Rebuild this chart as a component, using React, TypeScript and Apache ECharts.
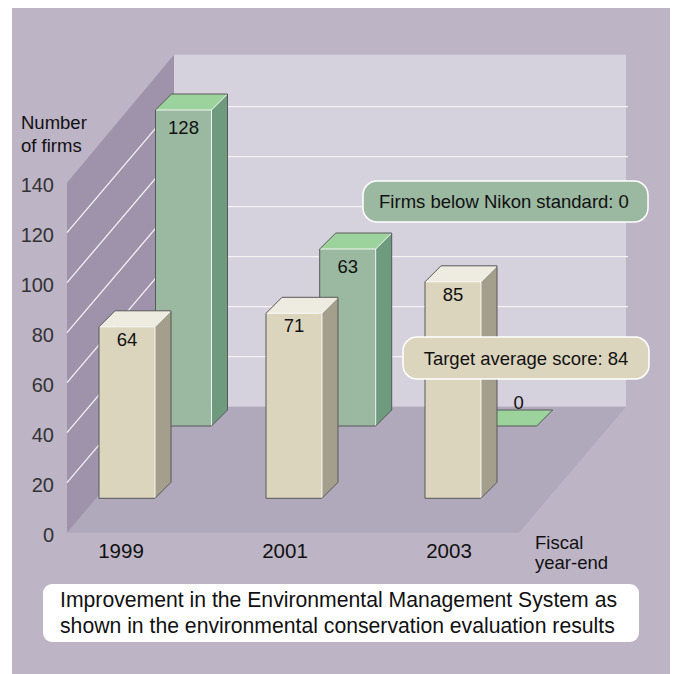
import React, { useEffect, useRef } from "react";
import * as echarts from "echarts";

const years = ["1999", "2001", "2003"];
const yTicks = [0, 20, 40, 60, 80, 100, 120, 140];
// Values as printed on the bars
const scorePrinted = [64, 71, 85];
const firmsPrinted = [128, 63, 0];
// Heights of the same bars as read against the drawn axis scale
const scoreHeights = [68.6, 74, 86.6];
const firmsHeights = [126.4, 70.8, 0];

const GRID = { left: 39, right: 144, top: 182.7, bottom: 141.3 };
const FONT = "Liberation Sans, Arial, Helvetica, sans-serif";
const DEPTH = { dx: 107, dy: 126 };
const WALL_X0 = 67;
const WALL_W = 452;

const beigeStyle = { front: "#DCD5BD", top: "#EEEBE0", side: "#A49E8C" };
const greenStyle = { front: "#9BB8A1", top: "#9CD29C", side: "#6E9B7E" };

const renderStage = (_: any, api: any) => {
  const y0 = api.coord([0, 0])[1];
  const yTop = api.coord([0, 140])[1];
  const { dx, dy } = DEPTH;
  const x0 = WALL_X0;
  const x1 = WALL_X0 + WALL_W;
  const children: any[] = [
    { type: "polygon", shape: { points: [[x0 + dx, yTop - dy - 2], [x1 + dx, yTop - dy - 2], [x1 + dx, y0 - dy], [x0 + dx, y0 - dy]] }, style: { fill: "#D5D1DD" } },
    { type: "polygon", shape: { points: [[x0, y0], [x0 + dx, y0 - dy], [x1 + dx, y0 - dy], [x1, y0]] }, style: { fill: "#B0A9BB" } },
    { type: "polygon", shape: { points: [[x0, y0], [x0 + dx, y0 - dy], [x0 + dx, yTop - dy - 2], [x0, yTop]] }, style: { fill: "#9F92AB" } },
  ];
  yTicks.slice(1, -1).forEach((t) => {
    const y = api.coord([0, t])[1];
    children.push({
      type: "polyline",
      shape: { points: [[x0, y], [x0 + dx, y - dy], [x1 + dx + 2, y - dy]] },
      style: { stroke: "#F3F2F5", lineWidth: 1.3, fill: "none" },
    });
  });
  return { type: "group", children };
};

const makeBars = (offsets: number[], depthUp: number, style: any, labelDy: number) => (params: any, api: any) => {
  const cat = api.value(0);
  const base = api.coord([cat, 0]);
  const h = api.coord([cat, 0])[1] - api.coord([cat, api.value(1)])[1];
  const printed = api.value(2);
  const W = 56;
  const D = 16;
  const xL = base[0] + offsets[params.dataIndex] - W / 2;
  const xR = xL + W;
  const yB = base[1] - depthUp;
  const yT = yB - h;
  const topPts = [[xL, yT], [xL + D, yT - D], [xR + D, yT - D], [xR, yT]];
  const children: any[] = [];
  if (h > 0) {
    children.push(
      { type: "polygon", shape: { points: [[xL, yT], [xR, yT], [xR, yB], [xL, yB]] }, style: { fill: style.front } },
      { type: "polygon", shape: { points: [[xR, yT], [xR + D, yT - D], [xR + D, yB - D], [xR, yB]] }, style: { fill: style.side } },
      { type: "polygon", shape: { points: topPts }, style: { fill: style.top } },
      { type: "polyline", shape: { points: [[xL, yT], [xR, yT], [xR, yB]] }, style: { stroke: "#FFFFFF", lineWidth: 1, fill: "none", opacity: 0.85 } },
      { type: "line", shape: { x1: xR, y1: yT, x2: xR + D, y2: yT - D }, style: { stroke: "#FFFFFF", lineWidth: 1, opacity: 0.85 } },
      {
        type: "polyline",
        shape: { points: [[xL, yT], [xL + D, yT - D], [xR + D, yT - D], [xR + D, yB - D], [xR, yB], [xL, yB], [xL, yT]] },
        style: { stroke: "#585858", lineWidth: 1, fill: "none" },
      },
      { type: "text", style: { text: String(printed), x: xL + W / 2, y: yT + labelDy, fill: "#111", font: `18.5px ${FONT}`, align: "center", verticalAlign: "middle" } },
    );
  } else {
    children.push(
      { type: "polygon", shape: { points: topPts }, style: { fill: style.top, stroke: "#585858", lineWidth: 1 } },
      { type: "text", style: { text: String(printed), x: xL + W / 2 + 10, y: yT - 24, fill: "#111", font: `18.5px ${FONT}`, align: "center", verticalAlign: "middle" } },
    );
  }
  return { type: "group", children };
};

const bubble = (x: number, y: number, w: number, h: number, fill: string, label: string, cx: number) => [
  { type: "rect", z: 100, shape: { x, y, width: w, height: h, r: 14 }, style: { fill, stroke: "#FFFFFF", lineWidth: 1.5 } },
  { type: "text", z: 101, style: { text: label, x: cx, y: y + h / 2, fill: "#111", font: `18.5px ${FONT}`, align: "center", verticalAlign: "middle" } },
];

export default function App() {
  const ref = useRef<HTMLDivElement>(null);
  useEffect(() => {
    document.body.style.margin = "0";
    const chart = echarts.init(ref.current!, undefined, { renderer: "svg" });
    chart.setOption({
      animation: false,
      backgroundColor: "#FFFFFF",
      grid: { ...GRID, containLabel: false },
      xAxis: {
        type: "category",
        data: years,
        axisLine: { show: false },
        axisTick: { show: false },
        axisLabel: { color: "#111", fontSize: 20.5, fontFamily: FONT, margin: 7 },
        name: "Fiscal\nyear-end",
        nameLocation: "end",
        nameGap: 4,
        nameTextStyle: { color: "#111", fontSize: 18.5, fontFamily: FONT, align: "left", verticalAlign: "top", lineHeight: 20 },
      },
      yAxis: {
        type: "value",
        min: 0,
        max: 140,
        interval: 20,
        offset: 18,
        axisLine: { show: false },
        axisTick: { show: false },
        splitLine: { show: false },
        axisLabel: { color: "#333", fontSize: 20, fontFamily: FONT, margin: -33, verticalAlign: "top", lineHeight: 4 },
        name: "Number\nof firms",
        nameLocation: "end",
        nameGap: 26,
        nameTextStyle: { color: "#111", fontSize: 18.5, fontFamily: FONT, align: "left", lineHeight: 23 },
      },
      graphic: [
        { type: "rect", z: -10, silent: true, shape: { x: 12, y: 8, width: 658, height: 666 }, style: { fill: "#BDB4C6" } },
        ...bubble(363, 181, 285, 41, "#9BB8A1", "Firms below Nikon standard: 0", 504),
        ...bubble(403, 337, 246, 42, "#DCD5BD", "Target average score: 84", 526),
        { type: "rect", z: 100, shape: { x: 43, y: 584, width: 596, height: 58, r: 9 }, style: { fill: "#FFFFFF" } },
        { type: "text", z: 101, style: { text: "Improvement in the Environmental Management System as", x: 60, y: 599, fill: "#111", font: `21.2px ${FONT}`, verticalAlign: "middle" } },
        { type: "text", z: 101, style: { text: "shown in the environmental conservation evaluation results", x: 60, y: 625, fill: "#111", font: `21.2px ${FONT}`, verticalAlign: "middle" } },
      ],
      series: [
        { type: "custom", name: "Stage", z: 1, coordinateSystem: "cartesian2d", data: [[0, 0]], renderItem: renderStage, silent: true },
        {
          type: "custom",
          name: "Firms",
          z: 2,
          encode: { x: 0, y: 1 },
          data: years.map((_, i) => [i, firmsHeights[i], firmsPrinted[i]]),
          renderItem: makeBars([62.5, 62.7, 59.7], 106.7, greenStyle, 17.5),
        },
        {
          type: "custom",
          name: "Score",
          z: 3,
          encode: { x: 0, y: 1 },
          data: years.map((_, i) => [i, scoreHeights[i], scorePrinted[i]]),
          renderItem: makeBars([6, 9, 4], 34.4, beigeStyle, 12.5),
        },
      ],
    });
    return () => chart.dispose();
  }, []);
  return <div ref={ref} style={{ width: 675, height: 674 }} />;
}
